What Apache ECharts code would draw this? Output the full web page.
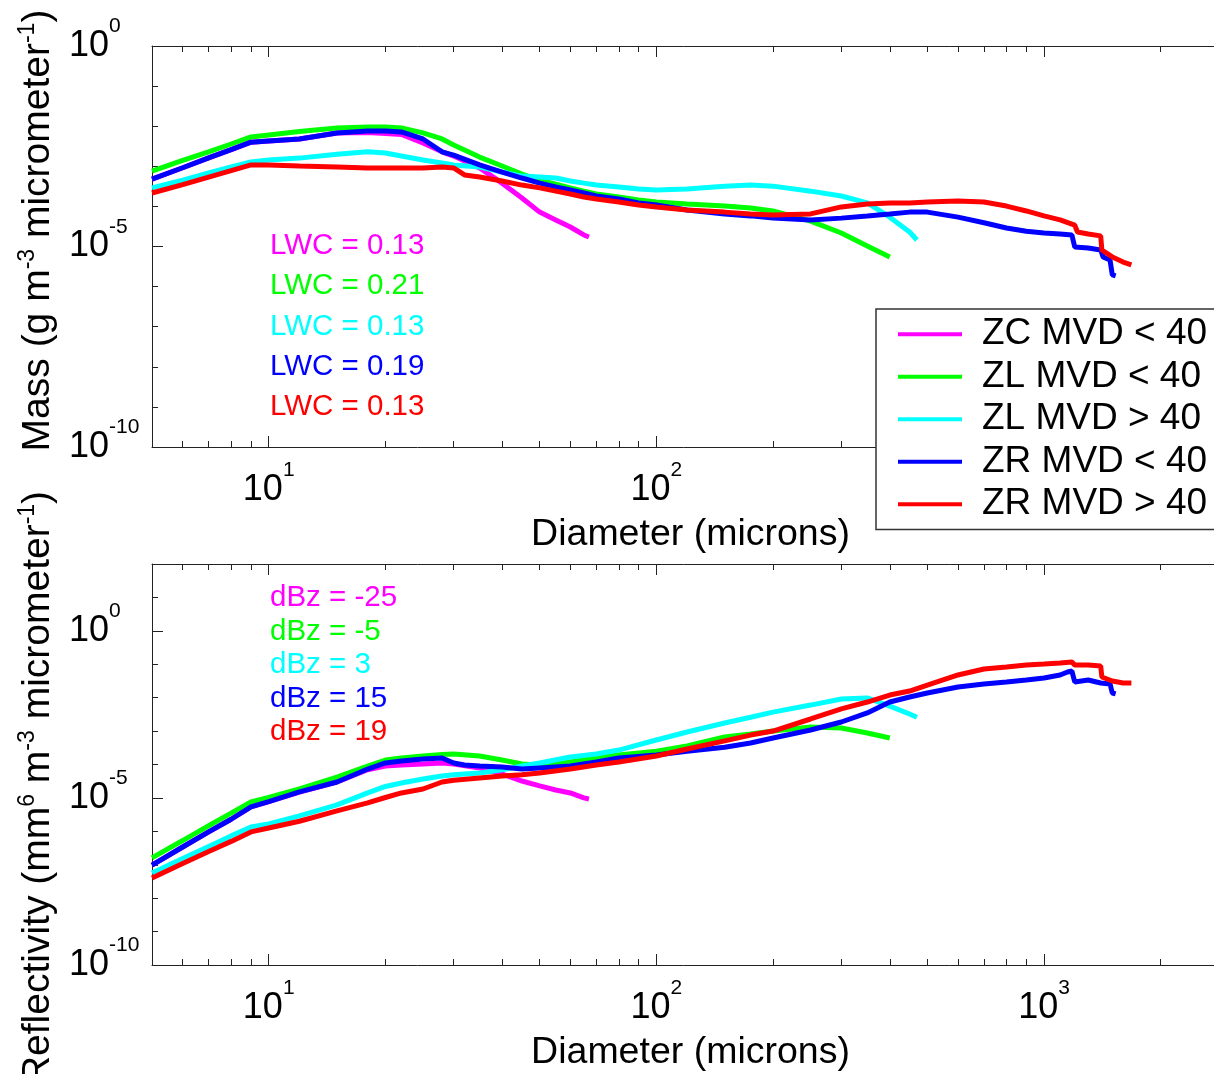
<!DOCTYPE html>
<html><head><meta charset="utf-8">
<script src="https://cdn.jsdelivr.net/npm/echarts@6/dist/echarts.min.js"></script>
<style>html,body{margin:0;padding:0;background:#fff}#c{width:1214px;height:1074px}</style>
</head><body><div id="c"></div><script>
// ---------- DATA ----------
const seriesNames = ['ZC MVD < 40', 'ZL MVD < 40', 'ZL MVD > 40', 'ZR MVD < 40', 'ZR MVD > 40'];
const seriesColors = ['#ff00ff', '#00ff00', '#00ffff', '#0000ff', '#ff0000'];
const lwcLabels = ['LWC = 0.13', 'LWC = 0.21', 'LWC = 0.13', 'LWC = 0.19', 'LWC = 0.13'];
const dbzLabels = ['dBz = -25', 'dBz = -5', 'dBz = 3', 'dBz = 15', 'dBz = 19'];
const xTickLabels = [10, 100, 1000];
const massTickLabels = [1e-10, 1e-5, 1];
const reflTickLabels = [1e-10, 1e-5, 1];

// Mass panel (diameter in microns, mass in g m^-3 um^-1)
const massD_ZC = [5,6,7,8,9,10,12,15,18,20,22,25,28,30,35,40,45,50,55,60,65,67];
const massZC = [4.8e-4,9.2e-4,1.63e-3,2.6e-3,4.0e-3,4.3e-3,4.8e-3,6.8e-3,7.0e-3,6.6e-3,6.2e-3,3.8e-3,2.3e-3,1.8e-3,9.1e-4,3.8e-4,1.62e-4,7.2e-5,4.6e-5,3.06e-5,1.94e-5,1.73e-5];
const massD_ZLlo = [5,6,7,8,9,10,12,15,18,20,22,25,28,30,35,40,45,50,55,60,65,70,80,90,100,120,150,175,200,250,300,350,400];
const massZLlo = [7.6e-4,1.4e-3,2.3e-3,3.6e-3,5.4e-3,6.0e-3,7.4e-3,9.0e-3,9.5e-3,9.5e-3,9.0e-3,6.8e-3,4.8e-3,3.4e-3,1.7e-3,1.02e-3,6.4e-4,4.5e-4,3.6e-4,2.9e-4,2.4e-4,2.04e-4,1.71e-4,1.44e-4,1.29e-4,1.15e-4,1.02e-4,9.1e-5,7.7e-5,4.3e-5,2.17e-5,1.03e-5,5.5e-6];
const massD_ZLhi = [5,6,7,8,9,10,12,15,18,20,22,25,28,30,35,40,45,50,55,60,65,70,80,90,100,120,150,175,200,250,300,350,400,450,470];
const massZLhi = [2.9e-4,4.5e-4,6.8e-4,9.6e-4,1.28e-3,1.44e-3,1.6e-3,2.0e-3,2.3e-3,2.15e-3,1.8e-3,1.44e-3,1.21e-3,1.08e-3,9.6e-4,7.2e-4,5.7e-4,5.4e-4,5.1e-4,4.3e-4,3.8e-4,3.4e-4,3.05e-4,2.7e-4,2.56e-4,2.7e-4,3.2e-4,3.4e-4,3.2e-4,2.4e-4,1.82e-4,1.22e-4,5.4e-5,2.3e-5,1.45e-5];
const massD_ZRlo = [5,6,7,8,9,10,12,15,18,20,22,25,28,30,35,40,45,50,55,60,65,70,80,90,100,120,150,175,200,250,300,350,400,450,500,600,700,800,900,1000,1100,1180,1200,1300,1400,1420,1480,1500,1530];
const massZRlo = [4.8e-4,9.2e-4,1.63e-3,2.6e-3,4.0e-3,4.3e-3,4.8e-3,6.8e-3,7.6e-3,7.6e-3,7.2e-3,4.8e-3,2.3e-3,1.9e-3,1.08e-3,7.2e-4,5.1e-4,3.8e-4,3.05e-4,2.56e-4,2.16e-4,1.82e-4,1.53e-4,1.22e-4,1.08e-4,8.1e-5,6.5e-5,5.8e-5,5.1e-5,4.6e-5,5.1e-5,5.8e-5,6.5e-5,7.2e-5,7.2e-5,5.4e-5,3.9e-5,2.9e-5,2.4e-5,2.17e-5,2.05e-5,1.94e-5,9.7e-6,9.2e-6,8.2e-6,5.5e-6,4.6e-6,1.95e-6,1.84e-6];
const massD_ZRhi = [5,6,7,8,9,10,12,15,18,20,22,25,28,30,32,35,40,45,50,55,60,65,70,80,90,100,120,150,175,200,250,300,350,400,450,500,600,700,800,900,1000,1100,1200,1220,1300,1400,1410,1500,1600,1680];
const massZRhi = [2.16e-4,3.5e-4,5.4e-4,7.8e-4,1.08e-3,1.08e-3,1.02e-3,9.6e-4,9.1e-4,9.1e-4,9.1e-4,9.1e-4,9.6e-4,9.1e-4,6.1e-4,5.4e-4,4.3e-4,3.4e-4,2.9e-4,2.4e-4,2.04e-4,1.71e-4,1.53e-4,1.29e-4,1.08e-4,9.7e-5,8.1e-5,7.2e-5,6.5e-5,6.1e-5,6.5e-5,9.7e-5,1.15e-4,1.22e-4,1.22e-4,1.29e-4,1.36e-4,1.29e-4,1.02e-4,7.7e-5,5.8e-5,4.6e-5,3.4e-5,2.3e-5,2.05e-5,1.84e-5,8.2e-6,5.5e-6,4.1e-6,3.5e-6];

// Reflectivity panel (mm^6 m^-3 um^-1)
const reflD_ZC = [5,6,7,8,9,10,12,15,18,20,22,25,28,30,35,40,45,50,55,60,65,67];
const reflZC = [9.8e-8,3.4e-7,9.6e-7,2.3e-6,5.4e-6,7.8e-6,1.5e-5,3.0e-5,7.0e-5,9.0e-5,9.7e-5,1.04e-4,1.11e-4,1.04e-4,7.9e-5,5.2e-5,3.2e-5,2.3e-5,1.73e-5,1.41e-5,1.0e-5,9.3e-6];
const reflD_ZLlo = [5,6,7,8,9,10,12,15,18,20,22,25,28,30,35,40,45,50,55,60,70,80,100,120,150,175,200,250,300,350,400];
const reflZLlo = [1.6e-7,5.3e-7,1.47e-6,3.5e-6,7.6e-6,1.03e-5,1.85e-5,4.2e-5,9.0e-5,1.36e-4,1.57e-4,1.8e-4,2.0e-4,2.06e-4,1.8e-4,1.36e-4,1.04e-4,9.7e-5,1.04e-4,1.19e-4,1.57e-4,1.93e-4,2.5e-4,3.6e-4,6.7e-4,8.2e-4,1.0e-3,1.33e-3,1.24e-3,8.8e-4,6.2e-4];
const reflD_ZLhi = [5,6,7,8,9,10,12,15,18,20,22,25,28,30,35,40,45,50,60,70,80,100,120,150,175,200,250,300,350,400,450,470];
const reflZLhi = [5.7e-8,1.54e-7,3.5e-7,7.3e-7,1.35e-6,1.66e-6,2.9e-6,6.2e-6,1.41e-5,2.2e-5,2.8e-5,3.7e-5,4.5e-5,4.9e-5,5.6e-5,6.9e-5,9.0e-5,1.11e-4,1.68e-4,2.06e-4,2.7e-4,5.4e-4,9.4e-4,1.75e-3,2.6e-3,3.7e-3,6.0e-3,9.1e-3,9.8e-3,5.6e-3,3.25e-3,2.6e-3];
const reflD_ZRlo = [5,6,7,8,9,10,12,15,18,20,22,25,28,30,32,35,40,45,50,60,70,80,100,120,150,175,200,250,300,350,400,450,500,600,700,800,900,1000,1100,1150,1180,1200,1300,1400,1480,1500,1530];
const reflZRlo = [9.8e-8,3.4e-7,9.6e-7,2.3e-6,5.4e-6,7.8e-6,1.51e-5,3.0e-5,7.3e-5,1.11e-4,1.27e-4,1.46e-4,1.57e-4,1.11e-4,9.7e-5,9.0e-5,8.4e-5,7.3e-5,7.9e-5,9.0e-5,1.19e-4,1.57e-4,1.93e-4,2.5e-4,3.3e-4,4.4e-4,6.2e-4,1.08e-3,1.87e-3,3.5e-3,7.4e-3,0.0105,0.0138,0.0209,0.0257,0.0295,0.0338,0.0388,0.0477,0.0586,0.0628,0.0295,0.0338,0.0275,0.0257,0.0138,0.0129];
const reflD_ZRhi = [5,6,7,8,9,10,12,15,18,20,22,25,28,30,35,40,45,50,60,70,80,100,120,150,175,200,250,300,350,400,450,500,600,700,800,900,1000,1100,1180,1200,1300,1400,1410,1500,1600,1680];
const reflZRhi = [4.0e-8,1.09e-7,2.5e-7,5.0e-7,9.6e-7,1.26e-6,2.0e-6,4.1e-6,7.1e-6,1.03e-5,1.41e-5,1.85e-5,3.0e-5,3.4e-5,3.95e-5,4.5e-5,4.9e-5,5.6e-5,7.3e-5,9.7e-5,1.19e-4,1.8e-4,2.9e-4,5.1e-4,7.6e-4,1.0e-3,2.3e-3,4.6e-3,7.4e-3,0.012,0.0158,0.0239,0.0477,0.072,0.083,0.095,0.102,0.109,0.117,0.095,0.095,0.089,0.0416,0.0316,0.0275,0.0275];

// ---------- CHART ----------
const FONT = '"Liberation Sans", Arial, Helvetica, sans-serif';
const AX = '#222';
const zip = (xs, ys) => xs.map((x, i) => [x, ys[i]]);
const massSets = [[massD_ZC, massZC], [massD_ZLlo, massZLlo], [massD_ZLhi, massZLhi], [massD_ZRlo, massZRlo], [massD_ZRhi, massZRhi]];
const reflSets = [[reflD_ZC, reflZC], [reflD_ZLlo, reflZLlo], [reflD_ZLhi, reflZLhi], [reflD_ZRlo, reflZRlo], [reflD_ZRhi, reflZRhi]];

function minorVals(lo, hi) {
  const out = [];
  for (let e = -12; e <= 4; e++) {
    for (let k = 1; k <= 9; k++) {
      const v = Number((k + 'e' + e));
      if (v >= lo && v <= hi) out.push(v);
    }
  }
  return out;
}
function decades(lo, hi) {
  const out = [];
  for (let e = -12; e <= 4; e++) { const v = Number('1e' + e); if (v >= lo && v <= hi) out.push(v); }
  return out;
}

const labelRich = {
  b: { fontSize: 36, lineHeight: 60, fontFamily: FONT, color: '#000' },
  s: { fontSize: 21, lineHeight: 21, verticalAlign: 'top', fontFamily: FONT, color: '#000' }
};
const powFmt = v => '{b|10}{s|' + Math.round(Math.log10(v)) + '}';
const nameRich = {
  t: { fontSize: 39, lineHeight: 42, verticalAlign: 'bottom', fontFamily: FONT, color: '#000' },
  u: { fontSize: 23, lineHeight: 23, verticalAlign: 'top', fontFamily: FONT, color: '#000' }
};

const XMIN = 5, XMAX = 3000;
function makeXAxes(gi) {
  const base = { type: 'log', logBase: 10, min: XMIN, max: XMAX, gridIndex: gi, splitLine: { show: false } };
  return [
    Object.assign({}, base, {
      position: 'bottom',
      axisLine: { show: true, onZero: false, lineStyle: { color: AX, width: 1 } },
      axisTick: { show: true, inside: true, length: 11, customValues: xTickLabels, lineStyle: { color: AX } },
      axisLabel: { show: true, customValues: xTickLabels, formatter: powFmt, rich: labelRich, margin: 13 },
      name: 'Diameter (microns)', nameLocation: 'middle', nameGap: 69,
      nameTextStyle: { fontSize: 37.5, fontFamily: FONT, color: '#000' }
    }),
    Object.assign({}, base, {
      position: 'bottom',
      axisLine: { show: false, onZero: false },
      axisTick: { show: true, inside: true, length: 6, customValues: minorVals(XMIN, XMAX), lineStyle: { color: AX } },
      axisLabel: { show: false }
    }),
    Object.assign({}, base, {
      position: 'top',
      axisLine: { show: true, onZero: false, lineStyle: { color: AX, width: 1 } },
      axisTick: { show: true, inside: true, length: 11, customValues: xTickLabels, lineStyle: { color: AX } },
      axisLabel: { show: false }
    }),
    Object.assign({}, base, {
      position: 'top',
      axisLine: { show: false, onZero: false },
      axisTick: { show: true, inside: true, length: 6, customValues: minorVals(XMIN, XMAX), lineStyle: { color: AX } },
      axisLabel: { show: false }
    })
  ];
}
function makeYAxes(gi, ymin, ymax, labels, nameText, namePad) {
  const base = { type: 'log', logBase: 10, min: ymin, max: ymax, gridIndex: gi, position: 'left', splitLine: { show: false } };
  return [
    Object.assign({}, base, {
      axisLine: { show: true, onZero: false, lineStyle: { color: AX, width: 1 } },
      axisTick: { show: true, inside: true, length: 11, customValues: labels, lineStyle: { color: AX } },
      axisLabel: { show: true, customValues: labels, formatter: powFmt, rich: labelRich, align: 'left', margin: 83 },
      name: nameText, nameLocation: 'middle', nameRotate: 90, nameGap: 92,
      nameTextStyle: { rich: nameRich, padding: namePad }
    }),
    Object.assign({}, base, {
      axisLine: { show: false, onZero: false },
      axisTick: { show: true, inside: true, length: 6, customValues: decades(ymin, ymax), lineStyle: { color: AX } },
      axisLabel: { show: false }
    })
  ];
}

const series = [];
massSets.forEach((s, i) => series.push({
  name: seriesNames[i], type: 'line', xAxisIndex: 0, yAxisIndex: 0, data: zip(s[0], s[1]),
  showSymbol: false, symbol: 'none', lineStyle: { width: 5, color: seriesColors[i] },
  itemStyle: { color: seriesColors[i] }, z: 2 + i * 0.1
}));
reflSets.forEach((s, i) => series.push({
  name: seriesNames[i], type: 'line', xAxisIndex: 4, yAxisIndex: 2, data: zip(s[0], s[1]),
  showSymbol: false, symbol: 'none', lineStyle: { width: 5, color: seriesColors[i] },
  itemStyle: { color: seriesColors[i] }, z: 2 + i * 0.1
}));

const graphic = [];
lwcLabels.forEach((t, i) => graphic.push({
  type: 'text', x: 270, y: 246 + i * 40.2,
  style: { text: t, fill: seriesColors[i], font: '29.5px ' + FONT, verticalAlign: 'middle', textVerticalAlign: 'middle' }
}));
dbzLabels.forEach((t, i) => graphic.push({
  type: 'text', x: 270, y: 598 + i * 33.5,
  style: { text: t, fill: seriesColors[i], font: '29.5px ' + FONT, verticalAlign: 'middle', textVerticalAlign: 'middle' }
}));

const option = {
  animation: false,
  backgroundColor: '#fff',
  grid: [
    { left: 152, top: 46, width: 1077, height: 401, containLabel: false, outerBoundsMode: 'none' },
    { left: 152, top: 564, width: 1077, height: 401, containLabel: false, outerBoundsMode: 'none' }
  ],
  xAxis: makeXAxes(0).concat(makeXAxes(1)),
  yAxis: makeYAxes(0, 1e-10, 1, massTickLabels,
      '{t|Mass (g m}{u|-3}{t| micrometer}{u|-1}{t|)}', [0, 0, 0, 32])
    .concat(makeYAxes(1, 1e-10, 100, reflTickLabels,
      '{t|Reflectivity (mm}{u|6}{t| m}{u|-3}{t| micrometer}{u|-1}{t|)}', [0, 46, 0, 0])),
  legend: {
    left: 876, top: 309, orient: 'vertical', icon: 'rect', itemWidth: 64, itemHeight: 4, itemGap: 0,
    padding: [4, 40, 4, 22], backgroundColor: '#fff', borderColor: '#333', borderWidth: 1.5,
    selectedMode: false, data: seriesNames,
    textStyle: { fontSize: 37, fontFamily: FONT, color: '#000', lineHeight: 42.5, padding: [0, 0, 0, 15] }
  },
  graphic: graphic,
  series: series
};
const chart = echarts.init(document.getElementById('c'), null, { renderer: 'canvas' });
chart.setOption(option);
</script></body></html>
